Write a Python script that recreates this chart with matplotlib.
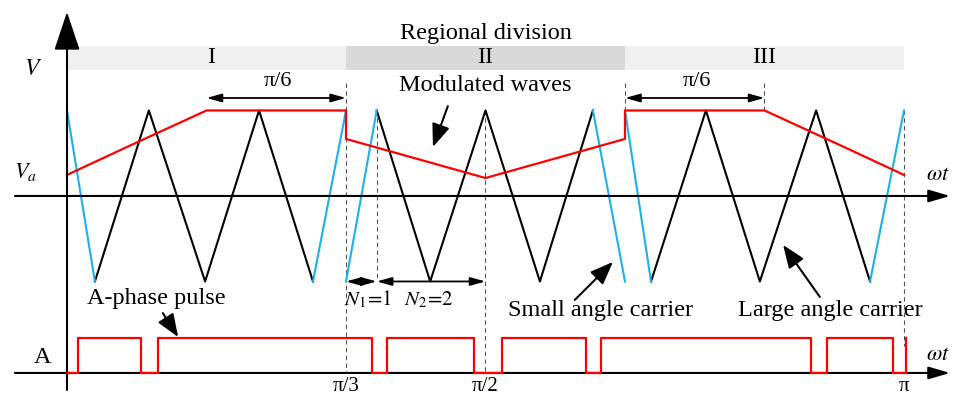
import matplotlib.pyplot as plt

plt.rcParams['font.family'] = ['Liberation Serif', 'DejaVu Serif']
plt.rcParams['mathtext.fontset'] = 'stix'

# regional division of the half cycle (degrees)
region_edges = [0, 60, 120, 180]
region_names = ['I', 'II', 'III']
region_shades = ['#f0f0f0', '#d9d9d9', '#f0f0f0']

# carrier vertices per region: angle (deg), normalised amplitude
carrier_I_x = [0, 6.0, 17.6, 29.7, 41.3, 52.9, 60]
carrier_I_y = [1, -1, 1, -1, 1, -1, 1]
carrier_II_x = [60, 66.6, 78.1, 90, 101.7, 113.1, 120]
carrier_II_y = [-1, 1, -1, 1, -1, 1, -1]
carrier_III_x = [120, 125.6, 137.4, 149.0, 161.1, 172.7, 180]
carrier_III_y = [1, -1, 1, -1, 1, -1, 1]

# modulated wave
mod_x = [0, 12.9, 30, 60, 60, 90, 120, 120, 150, 167.1, 180]
mod_y = [0.246, 0.573, 1.0, 1.0, 0.667, 0.21, 0.667, 1.0, 1.0, 0.573, 0.246]

# A-phase pulse switching instants (deg), starts low
pulse_edges = [2.4, 15.9, 19.6, 65.6, 68.8, 87.5, 93.5, 111.6, 114.8,
               160.0, 163.4, 177.6, 180.4]

# angle ticks on the pulse axis
tick_pos = [60, 90, 180]
tick_labels = ['π/3', 'π/2', 'π']

PULSE_LOW = -2.07
PULSE_HIGH = -1.66
BLUE = '#1ab2ea'
RED = '#ff0000'
FS = 17.5

fig = plt.figure(figsize=(9.55, 3.98), dpi=100)
ax = fig.add_axes([0, 0, 1, 1])
ax.set_xlim(-14.41, 190.97)
ax.set_ylim(-2.363, 2.292)
ax.axis('off')

# region bands
for i, name in enumerate(region_names):
    x0, x1 = region_edges[i], region_edges[i + 1]
    ax.fill_between([x0, x1], 1.474, 1.754, color=region_shades[i], lw=0, zorder=0)
    ax.text((x0 + x1) / 2 + (1 if i == 0 else 0), 1.614, name, ha='center', va='center',
            fontsize=FS)
ax.text(90, 1.895, 'Regional division', ha='center', va='center', fontsize=FS)

# dashed guides
guides = [(60, 1.32, PULSE_LOW), (66.6, 1.0, -1.0), (90, 1.0, PULSE_LOW),
          (120, 1.32, 1.0), (150, 1.32, 1.0), (180, 1.0, PULSE_HIGH - 0.1)]
for gx, y0, y1 in guides:
    ax.plot([gx, gx], [y0, y1], color='#555555', lw=0.8, ls=(0, (4, 3)), zorder=1)

# carriers: steep edge segments in blue, the rest black
for cx, cy in [(carrier_I_x, carrier_I_y), (carrier_II_x, carrier_II_y),
               (carrier_III_x, carrier_III_y)]:
    ax.plot(cx[1:-1], cy[1:-1], color='black', lw=1.5, zorder=3)
    ax.plot(cx[:2], cy[:2], color=BLUE, lw=1.5, zorder=3)
    ax.plot(cx[-2:], cy[-2:], color=BLUE, lw=1.5, zorder=3)

ax.plot(mod_x, mod_y, color=RED, lw=1.6, zorder=4)

# pulse train
px, py = [0], [PULSE_LOW]
level = PULSE_LOW
for e in pulse_edges:
    px.append(e)
    py.append(level)
    level = PULSE_HIGH if level == PULSE_LOW else PULSE_LOW
    px.append(e)
    py.append(level)
ax.plot(px, py, color=RED, lw=1.6, zorder=6)

# axes with arrow heads
axis_kw = dict(color='black', lw=1.5, shrinkA=0, shrinkB=0)
ax.annotate('', xy=(0, 2.152), xytext=(0, -2.269),
            arrowprops=dict(arrowstyle='-|>,head_length=1.2,head_width=0.4',
                            mutation_scale=20, **axis_kw), zorder=5)
for yy in [0, PULSE_LOW]:
    ax.annotate('', xy=(189.9, yy), xytext=(-11.2, yy),
                arrowprops=dict(arrowstyle='-|>,head_length=1.3,head_width=0.38',
                                mutation_scale=10, **axis_kw), zorder=5)

ax.text(-7.3, 1.474, '$V$', ha='center', va='center', fontsize=17)
ax.text(-9.0, 0.28, '$V_a$', ha='center', va='center', fontsize=16)
ax.text(187.3, 0.234, r'$\omega t$', ha='center', va='center', fontsize=16)
ax.text(187.3, -1.871, r'$\omega t$', ha='center', va='center', fontsize=16)
ax.text(-5.2, -1.895, 'A', ha='center', va='center', fontsize=FS)

for tp, tl in zip(tick_pos, tick_labels):
    ax.text(tp, -2.345, tl, ha='center', va='bottom', fontsize=15)

# span markers
span_kw = dict(arrowstyle='<|-|>,head_length=0.9,head_width=0.25',
               mutation_scale=10, color='black', lw=1.3, shrinkA=0, shrinkB=0)
for a, b, tx in [(30, 60, 45.4), (120, 150, 135.5)]:
    ax.annotate('', xy=(b, 1.146), xytext=(a, 1.146), arrowprops=span_kw)
    ax.text(tx, 1.228, 'π/6', ha='center', va='bottom', fontsize=16)
ax.annotate('', xy=(66.6, -1.0), xytext=(60, -1.0), arrowprops=span_kw)
ax.annotate('', xy=(90, -1.0), xytext=(66.6, -1.0), arrowprops=span_kw)
ax.text(64.7, -1.216, '$N_1\\!=\\!1$', ha='center', va='center', fontsize=15)
ax.text(77.8, -1.216, '$N_2\\!=\\!2$', ha='center', va='center', fontsize=15)

# callouts
call_kw = dict(arrowstyle='-|>,head_length=1.4,head_width=0.55',
               mutation_scale=10, color='black', lw=1.5, shrinkA=0, shrinkB=0)
ax.text(89.9, 1.287, 'Modulated waves', ha='center', va='center', fontsize=FS)
ax.annotate('', xy=(78.7, 0.573), xytext=(81.9, 1.05), arrowprops=call_kw)
ax.text(19.1, -1.205, 'A-phase pulse', ha='center', va='center', fontsize=FS)
ax.annotate('', xy=(23.9, -1.65), xytext=(20.6, -1.37), arrowprops=call_kw)
ax.text(114.8, -1.345, 'Small angle carrier', ha='center', va='center', fontsize=FS)
ax.annotate('', xy=(117.4, -0.772), xytext=(109.2, -1.216), arrowprops=call_kw)
ax.text(164.1, -1.345, 'Large angle carrier', ha='center', va='center', fontsize=FS)
ax.annotate('', xy=(154.0, -0.573), xytext=(161.9, -1.181), arrowprops=call_kw)

fig.savefig('out.png', dpi=100)
